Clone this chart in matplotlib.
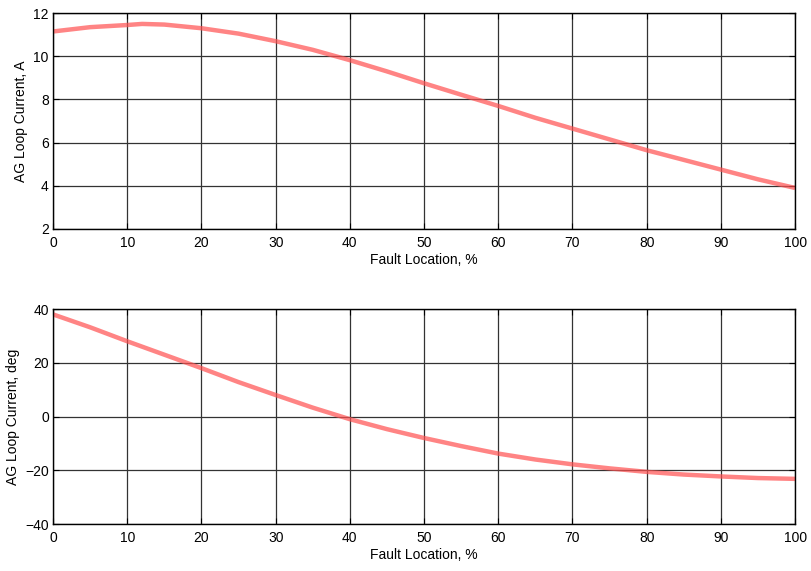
import matplotlib
matplotlib.use('Agg')
import matplotlib.pyplot as plt

plt.rcParams['font.family'] = ['Liberation Sans', 'DejaVu Sans']
plt.rcParams['font.size'] = 10

# fault location, %
loc = [0, 5, 10, 12, 15, 20, 25, 30, 35, 40, 45, 50, 55, 60, 65, 70, 75, 80, 85, 90, 95, 100]
# loop current magnitude, A
mag = [11.15, 11.35, 11.45, 11.5, 11.47, 11.3, 11.05, 10.7, 10.3, 9.82, 9.3, 8.75, 8.22, 7.7, 7.15, 6.65, 6.15, 5.65, 5.2, 4.75, 4.3, 3.9]
# loop current angle, deg
ang = [38.0, 33.2, 28.0, 26.0, 23.0, 18.0, 12.8, 8.0, 3.3, -1.0, -4.7, -8.0, -11.0, -13.8, -16.0, -17.8, -19.3, -20.6, -21.6, -22.3, -22.9, -23.2]

xticks = list(range(0, 101, 10))

fig = plt.figure(figsize=(8.11, 5.71), dpi=100)
ax1 = fig.add_axes([0.0654, 0.599, 0.915, 0.378])
ax2 = fig.add_axes([0.0654, 0.0823, 0.915, 0.3765])

panels = [
    (ax1, mag, (2, 12), list(range(2, 13, 2)), 'AG Loop Current, A'),
    (ax2, ang, (-40, 40), list(range(-40, 41, 20)), 'AG Loop Current, deg'),
]

for ax, y, ylim, yticks, ylabel in panels:
    ax.plot(loc, y, color='#ff5050', linewidth=3.2, alpha=0.7, solid_capstyle='butt')
    ax.set_xlim(0, 100)
    ax.set_ylim(*ylim)
    ax.set_xticks(xticks)
    ax.set_yticks(yticks)
    ax.grid(True, color='#333333', linestyle='-', linewidth=0.9)
    ax.tick_params(direction='in', top=True, right=True, length=4)
    ax.tick_params(axis='x', pad=5)
    ax.tick_params(axis='y', pad=3)
    ax.set_xlabel('Fault Location, %', labelpad=2)
    ax.set_ylabel(ylabel, labelpad=4)
    for s in ax.spines.values():
        s.set_linewidth(1.0)

plt.savefig('out.png', dpi=100)
plt.close()
